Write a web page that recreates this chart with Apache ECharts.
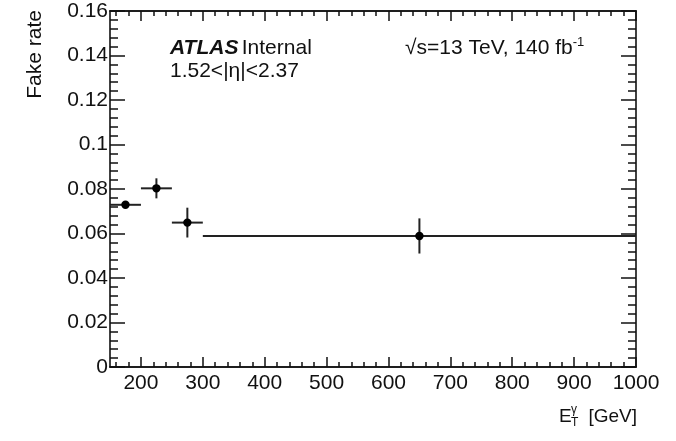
<!DOCTYPE html>
<html><head><meta charset="utf-8">
<script src="https://cdn.jsdelivr.net/npm/echarts@6/dist/echarts.min.js"></script>
<style>html,body{margin:0;padding:0;background:#fff}#c{width:676px;height:441px}</style>
</head><body><div id="c"></div>
<script>
// ---- data ----
const binLow = [150, 200, 250, 300];
const binHigh = [200, 250, 300, 1000];
const xCenter = [175, 225, 275, 650];
const fakeRate = [0.0729, 0.0803, 0.0649, 0.0589];
const fakeRateErr = [0.0012, 0.0045, 0.0067, 0.0079];
const xMajorTicks = [200, 300, 400, 500, 600, 700, 800, 900, 1000];
const xMinorTicks = [160, 180, 220, 240, 260, 280, 320, 340, 360, 380, 420, 440, 460, 480,
  520, 540, 560, 580, 620, 640, 660, 680, 720, 740, 760, 780, 820, 840, 860, 880, 920, 940, 960, 980];
const yTickLabels = ['0', '0.02', '0.04', '0.06', '0.08', '0.1', '0.12', '0.14', '0.16'];

const FONT = '"Liberation Sans", Arial, sans-serif';
const FS = 21;
const INK = '#111';
const chart = echarts.init(document.getElementById('c'), null, {renderer: 'canvas'});

const seriesData = binLow.map((lo, i) => [xCenter[i], fakeRate[i], lo, binHigh[i], fakeRateErr[i]]);

function xAx(pos, ticks, len, labels) {
  return {
    type: 'value', position: pos, min: 150, max: 1000,
    axisLine: {show: true, onZero: false, lineStyle: {color: INK, width: 1.6}},
    axisTick: {show: true, inside: true, length: len, customValues: ticks, lineStyle: {color: INK, width: 1.5}},
    axisLabel: labels ? {show: true, customValues: ticks, fontSize: FS, fontFamily: FONT, color: INK, margin: 6,
      formatter: v => String(v)} : {show: false},
    splitLine: {show: false}
  };
}
function yAx(pos, labels) {
  return {
    type: 'value', position: pos, min: 0, max: 0.16, interval: 0.02,
    axisLine: {show: true, onZero: false, lineStyle: {color: INK, width: 1.6}},
    axisTick: {show: true, inside: true, length: 15, lineStyle: {color: INK, width: 1.5}},
    minorTick: {show: true, splitNumber: 5, length: 8, lineStyle: {color: INK, width: 1.5}},
    axisLabel: labels ? {show: true, fontSize: FS, fontFamily: FONT, color: INK, margin: 2,
      formatter: v => yTickLabels[Math.round(v / 0.02)]} : {show: false},
    splitLine: {show: false}, minorSplitLine: {show: false}
  };
}

chart.setOption({
  animation: false,
  backgroundColor: '#fff',
  grid: {left: 110, top: 11, right: 40, bottom: 74, containLabel: false},
  xAxis: [
    xAx('bottom', xMajorTicks, 10, true),
    xAx('bottom', xMinorTicks, 5, false),
    xAx('top', xMajorTicks, 10, false),
    xAx('top', xMinorTicks, 5, false)
  ],
  yAxis: [yAx('left', true), yAx('right', false)],
  series: [{
    type: 'custom',
    xAxisIndex: 0, yAxisIndex: 0,
    data: seriesData,
    encode: {x: 0, y: 1},
    renderItem: function (params, api) {
      const x = api.value(0), y = api.value(1), lo = api.value(2), hi = api.value(3), e = api.value(4);
      const pL = api.coord([lo, y]), pR = api.coord([hi, y]);
      const pB = api.coord([x, y - e]), pT = api.coord([x, y + e]);
      const pC = api.coord([x, y]);
      const ls = {stroke: '#222', lineWidth: 2};
      return {type: 'group', children: [
        {type: 'line', shape: {x1: pL[0], y1: pL[1], x2: pR[0], y2: pR[1]}, style: ls},
        {type: 'line', shape: {x1: pB[0], y1: pB[1], x2: pT[0], y2: pT[1]}, style: ls},
        {type: 'circle', shape: {cx: pC[0], cy: pC[1], r: 4.2}, style: {fill: '#000'}}
      ]};
    }
  }],
  graphic: [
    {type: 'text', x: 170, y: 48, style: {
      text: '{a|ATLAS} {b|Internal}', verticalAlign: 'middle',
      rich: {a: {fontSize: FS, fontFamily: FONT, fontWeight: 'bold', fontStyle: 'italic', fill: INK},
             b: {fontSize: FS, fontFamily: FONT, fill: INK}}}},
    {type: 'text', x: 170, y: 71, style: {text: '1.52<|\u03b7|<2.37', fontSize: FS, fontFamily: FONT, fill: INK, verticalAlign: 'middle'}},
    {type: 'text', x: 405, y: 48, style: {
      text: '\u221as=13 TeV, 140 fb{s|-1}', verticalAlign: 'middle',
      fontSize: FS, fontFamily: FONT, fill: INK,
      rich: {s: {fontSize: 13, fontFamily: FONT, fill: INK, verticalAlign: 'top', padding: [0, 0, 11, 0]}}}},
    {type: 'text', x: 35, y: 10, rotation: Math.PI / 2, style: {
      text: 'Fake rate', fontSize: FS, fontFamily: FONT, fill: INK, align: 'right', verticalAlign: 'middle'}},
    {type: 'text', x: 559, y: 417, style: {text: 'E', fontSize: 19, fontFamily: FONT, fill: INK, verticalAlign: 'middle'}},
    {type: 'text', x: 571, y: 410, style: {text: '\u03b3', fontSize: 12, fontFamily: FONT, fill: INK, verticalAlign: 'middle'}},
    {type: 'text', x: 571, y: 423, style: {text: 'T', fontSize: 12, fontFamily: FONT, fill: INK, verticalAlign: 'middle'}},
    {type: 'text', x: 637, y: 417, style: {text: '[GeV]', fontSize: 19, fontFamily: FONT, fill: INK, align: 'right', verticalAlign: 'middle'}}
  ]
});
</script></body></html>
